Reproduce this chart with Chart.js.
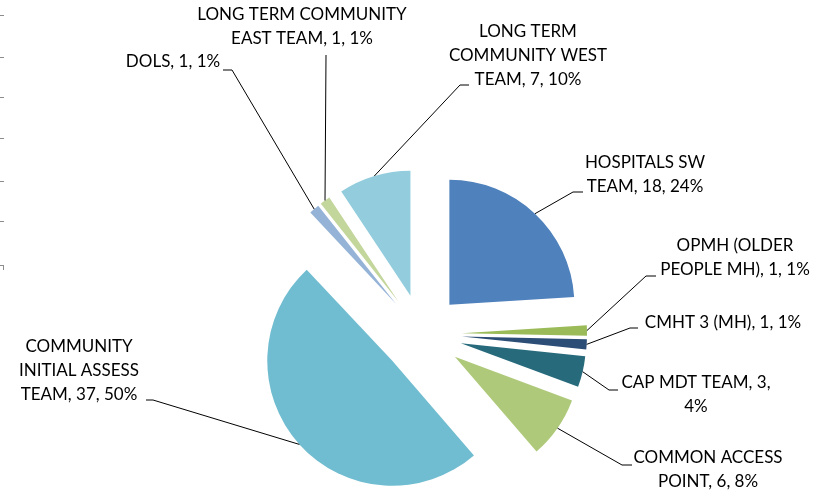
<!DOCTYPE html>
<html>
<head>
<meta charset="utf-8">
<script src="https://cdn.jsdelivr.net/npm/chart.js@4/dist/chart.umd.min.js"></script>
<style>
    html, body { margin: 0; padding: 0; background: #ffffff; }
    #wrap { position: relative; width: 832px; height: 497px; }
</style>
</head>
<body>
<div id="wrap"><canvas id="chart"></canvas></div>
<script>
// data
var categories = ["HOSPITALS SW TEAM", "OPMH (OLDER PEOPLE MH)", "CMHT 3 (MH)", "CAP MDT TEAM",
    "COMMON ACCESS POINT", "COMMUNITY INITIAL ASSESS TEAM", "DOLS",
    "LONG TERM COMMUNITY EAST TEAM", "LONG TERM COMMUNITY WEST TEAM"];
var counts = [18, 1, 1, 3, 6, 37, 1, 1, 7];
var percents = [24, 1, 1, 4, 8, 50, 1, 1, 10];
var colours = ["#4F81BD", "#9BBB59", "#2C4D75", "#276A7C", "#AFC97A", "#70BCD0", "#95B3D7", "#C3D69B", "#93CDDD"];

// label placement: words per line, text centre x, first line y, leader elbow, end of the short horizontal piece
var labelLayout = [
    { words: [2, 3], x: 645, y: 163, ex: 573, ey: 192, hx: 583 },
    { words: [2, 4], x: 735, y: 246, ex: 646, ey: 276, hx: 656 },
    { words: [6], x: 723, y: 323, ex: 630, ey: 328, hx: 638 },
    { words: [4, 1], x: 696, y: 383, ex: 609, ey: 390, hx: 618 },
    { words: [2, 3], x: 708, y: 458, ex: 622, ey: 465, hx: 632 },
    { words: [1, 2, 3], x: 79, y: 347, ex: 153, ey: 400, hx: 146 },
    { words: [3], x: 173, y: 62, ex: 232, ey: 70, hx: 223 },
    { words: [3, 4], x: 302, y: 15, ex: 326, ey: 55, hx: 326 },
    { words: [2, 2, 3], x: 528, y: 32, ex: 460, ey: 85, hx: 469 }
];

var EXPLODE = 40;

function sliceShift(arc) {
    var p = arc.getProps(["startAngle", "endAngle"], true);
    var mid = (p.startAngle + p.endAngle) / 2;
    return { x: Math.cos(mid) * EXPLODE, y: Math.sin(mid) * EXPLODE, mid: mid };
}

// every slice pulled out by the same distance, like the excel point explosion
var explodedSlices = {
    "id": "explodedSlices",
    "beforeDatasetDraw": function (chart, args) {
        var ctx = chart.ctx;
        args.meta.data.forEach(function (arc) {
            var s = sliceShift(arc);
            ctx.save();
            ctx.translate(s.x, s.y);
            arc.draw(ctx, chart.chartArea);
            ctx.restore();
        });
        return false;
    }
};

var leaderLabels = {
    "id": "leaderLabels",
    "afterDatasetsDraw": function (chart) {
        var ctx = chart.ctx;
        var arcs = chart.getDatasetMeta(0).data;
        ctx.save();

        // stray axis ticks at the left edge
        ctx.strokeStyle = "#8c8c8c";
        ctx.lineWidth = 1;
        [15, 57, 97, 138, 181, 221, 265].forEach(function (ty) {
            ctx.beginPath();
            ctx.moveTo(0, ty + 0.5);
            ctx.lineTo(4, ty + 0.5);
            ctx.stroke();
        });
        ctx.beginPath();
        ctx.moveTo(3.5, 265);
        ctx.lineTo(3.5, 270);
        ctx.stroke();

        ctx.font = "17px Lato";
        ctx.fillStyle = "#000000";
        ctx.textAlign = "center";
        ctx.textBaseline = "middle";
        arcs.forEach(function (arc, i) {
            var p = arc.getProps(["x", "y", "outerRadius"], true);
            var s = sliceShift(arc);
            var ax = p.x + s.x + Math.cos(s.mid) * p.outerRadius;
            var ay = p.y + s.y + Math.sin(s.mid) * p.outerRadius;
            var lay = labelLayout[i];

            ctx.strokeStyle = "#000000";
            ctx.lineWidth = 1;
            ctx.beginPath();
            ctx.moveTo(ax, ay);
            ctx.lineTo(lay.ex, lay.ey);
            ctx.lineTo(lay.hx, lay.ey);
            ctx.stroke();

            var words = (categories[i] + ", " + counts[i] + ", " + percents[i] + "%").split(" ");
            var k = 0;
            lay.words.forEach(function (n, line) {
                ctx.fillText(words.slice(k, k + n).join(" "), lay.x, lay.y + line * 24);
                k += n;
            });
        });
        ctx.restore();
    }
};

var chart = new Chart(document.getElementById("chart").getContext("2d"), {
    "type": "pie",
    "data": {
        "labels": categories,
        "datasets": [{
            "data": counts,
            "backgroundColor": colours,
            "borderWidth": 0,
            "offset": 0
        }]
    },
    "options": {
        "responsive": true,
        "maintainAspectRatio": false,
        "animation": false,
        "radius": 125,
        "layout": { "padding": { "left": 12, "right": 0, "top": 171, "bottom": 0 } },
        "plugins": {
            "legend": { "display": false },
            "tooltip": { "enabled": false }
        }
    },
    "plugins": [explodedSlices, leaderLabels]
});
</script>
</body>
</html>
